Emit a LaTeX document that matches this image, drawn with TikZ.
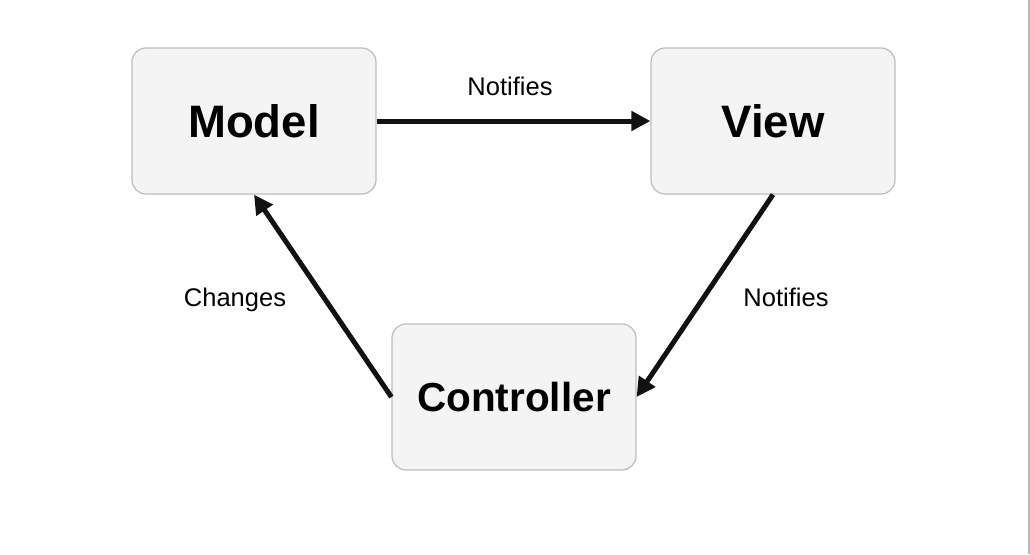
\documentclass[tikz,border=0pt]{standalone}
\usepackage{fontspec}
\setmainfont{Liberation Sans}
\usetikzlibrary{arrows.meta}
\definecolor{boxfill}{HTML}{F4F4F4}
\definecolor{boxline}{HTML}{BDBDBD}
\definecolor{arrowc}{HTML}{111111}
\definecolor{edgeline}{HTML}{B8B8B8}
\tikzset{
  mvcbox/.style={draw=boxline, line width=1.2pt, fill=boxfill, rounded corners=14pt,
    minimum width=244pt, minimum height=146pt, inner sep=0pt, font=\bfseries\fontsize{45.5}{50}\selectfont},
  ctrlbox/.style={mvcbox, font=\bfseries\fontsize{40.5}{46}\selectfont},
  conn/.style={draw=arrowc, line width=5pt, -{Triangle[length=19pt,width=19pt]}, shorten >=0pt},
  lbl/.style={inner sep=0pt, anchor=base, font=\fontsize{25.5}{30}\selectfont}
}
\begin{document}
\begin{tikzpicture}[x=1pt,y=-1pt]
\useasboundingbox (0,0) rectangle (1030,554);
\fill[white] (0,0) rectangle (1030,554);
\draw[edgeline, line width=1.5pt] (1029,0) -- (1029,554);
\node[mvcbox] (model) at (254,121) {Model};
\node[mvcbox] (view) at (773,121) {View};
\node[ctrlbox] (ctrl) at (514,397) {Controller};
\draw[conn] (model.east) -- (view.west);
\draw[conn] (view.south) -- (ctrl.east);
\draw[conn] (ctrl.west) -- (model.south);
\node[lbl] (l1) at (510,95) {Notifies};
\node[lbl] (l2) at (235,306) {Changes};
\node[lbl] (l3) at (786,306) {Notifies};
\end{tikzpicture}
\end{document}
